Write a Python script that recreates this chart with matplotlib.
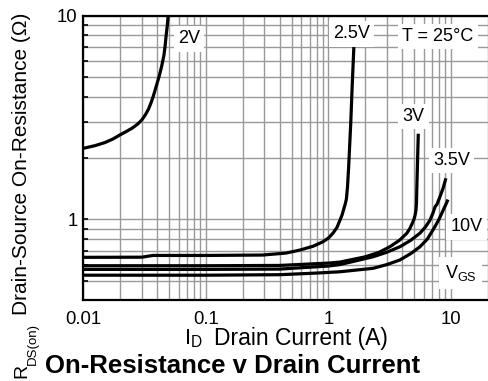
import matplotlib
matplotlib.use("Agg")
import matplotlib.pyplot as plt
from matplotlib.ticker import LogLocator, NullFormatter, FixedLocator, FixedFormatter

plt.rcParams['font.family'] = ['Liberation Sans', 'DejaVu Sans']
plt.rcParams['mathtext.fontset'] = 'custom'
plt.rcParams['mathtext.rm'] = 'Liberation Sans'

# ---- data ----
x_2v = [0.01, 0.0125, 0.015, 0.0175, 0.02, 0.0225, 0.025, 0.0275, 0.030, 0.032, 0.034,
        0.0355, 0.037, 0.0385, 0.040, 0.0418, 0.0436, 0.0455, 0.0465, 0.0473, 0.0485, 0.0494]
y_2v = [2.23, 2.30, 2.38, 2.48, 2.60, 2.70, 2.80, 2.92, 3.07, 3.25, 3.47,
        3.70, 3.97, 4.30, 4.65, 5.10, 5.65, 6.4, 7.1, 7.9, 9.0, 10.2]

x_25v = [0.01, 0.03, 0.037, 0.1, 0.29, 0.45, 0.586, 0.75, 0.90, 1.0, 1.09, 1.17, 1.24,
         1.29, 1.33, 1.37, 1.40, 1.43, 1.46, 1.52, 1.56, 1.61]
y_25v = [0.651, 0.652, 0.665, 0.665, 0.668, 0.683, 0.707, 0.738, 0.776, 0.81, 0.857, 0.91, 0.99,
         1.05, 1.12, 1.19, 1.26, 1.45, 1.8, 3.0, 4.5, 7.0]

x_3v = [0.01, 0.1, 0.4, 1.0, 1.24, 2.0, 2.6, 3.17, 3.8, 4.35, 4.6, 4.8, 4.95, 5.05, 5.12,
        5.17, 5.22, 5.25, 5.32, 5.40]
y_3v = [0.592, 0.592, 0.594, 0.610, 0.617, 0.655, 0.69, 0.734, 0.79, 0.854, 0.9, 0.95, 0.99,
        1.03, 1.07, 1.11, 1.2, 1.4, 1.9, 2.63]

x_35v = [0.01, 0.1, 0.4, 1.0, 1.24, 2.31, 3.0, 3.83, 4.7, 5.58, 6.2, 6.73, 7.1, 7.39, 7.7,
         8.11, 8.6, 9.07]
y_35v = [0.568, 0.568, 0.570, 0.59, 0.60, 0.655, 0.69, 0.734, 0.79, 0.856, 0.92, 0.992, 1.07,
         1.15, 1.19, 1.29, 1.42, 1.59]

x_10v = [0.01, 0.1, 0.4, 0.8, 1.24, 2.31, 3.0, 3.83, 4.7, 5.58, 6.4, 7.11, 7.9, 8.63, 9.44]
y_10v = [0.532, 0.532, 0.535, 0.545, 0.553, 0.575, 0.60, 0.632, 0.68, 0.734, 0.80, 0.886,
         0.99, 1.11, 1.25]

x_ticks = [0.01, 0.1, 1, 10]
x_ticklabels = ["0.01", "0.1", "1", "10"]
y_ticks = [1, 10]
y_ticklabels = ["1", "10"]

fig = plt.figure(figsize=(4.88, 3.81), dpi=100)
ax = fig.add_axes([83.3 / 488, 81 / 381, (488 - 83.3) / 488, (300 - 15.5) / 381])
ax.set_xscale('log')
ax.set_yscale('log')
ax.set_xlim(0.01, 20)
ax.set_ylim(0.402, 10)

grid_c = '#999999'
ax.xaxis.set_major_locator(FixedLocator(x_ticks))
ax.xaxis.set_major_formatter(FixedFormatter(x_ticklabels))
ax.xaxis.set_minor_locator(LogLocator(base=10, subs=range(2, 10), numticks=20))
ax.xaxis.set_minor_formatter(NullFormatter())
ax.yaxis.set_major_locator(FixedLocator(y_ticks))
ax.yaxis.set_major_formatter(FixedFormatter(y_ticklabels))
ax.yaxis.set_minor_locator(LogLocator(base=10, subs=range(2, 10), numticks=20))
ax.yaxis.set_minor_formatter(NullFormatter())

ax.grid(True, which='both', color=grid_c, linewidth=1.0)
ax.set_axisbelow(True)

ax.tick_params(axis='x', which='both', length=0, labelsize=13.3, pad=8)
ax.tick_params(axis='y', which='both', direction='in', length=3.5, width=1.2,
               labelsize=13.3, pad=4)

for s in ['left', 'top', 'bottom']:
    ax.spines[s].set_linewidth(1.6)
ax.spines['right'].set_visible(False)

lw = 2.3
for xs, ys in [(x_2v, y_2v), (x_25v, y_25v), (x_3v, y_3v), (x_35v, y_35v), (x_10v, y_10v)]:
    ax.plot(xs, ys, color='black', linewidth=lw, solid_capstyle='butt',
            solid_joinstyle='round', clip_on=True)

box = dict(facecolor='white', edgecolor='none', pad=3)
fs = 13
ax.text(0.0728, 7.67, "2V", fontsize=fs, ha='center', va='center', bbox=box)
ax.text(1.54, 8.12, "2.5V", fontsize=fs, ha='center', va='center', bbox=box)
ax.text(7.82, 7.89, "T = 25°C", fontsize=fs, ha='center', va='center', bbox=box)
ax.text(4.93, 3.19, "3V", fontsize=fs, ha='center', va='center', bbox=box)
ax.text(10.07, 1.95, "3.5V", fontsize=fs, ha='center', va='center', bbox=box)
ax.text(13.4, 0.917, "10V", fontsize=fs, ha='center', va='center', bbox=box)
ax.text(12.0, 0.545, r"V$_{\mathregular{GS}}$", fontsize=fs, ha='center', va='center',
        bbox=dict(facecolor='white', edgecolor='none', pad=4))

# x label
fig.text(184 / 488, 1 - 344 / 381, r"I$_{\mathregular{D}}$", fontsize=16, ha='left', va='baseline')
fig.text(300.5 / 488, 1 - 338 / 381, "Drain Current (A)", fontsize=16.5, ha='center', va='center')

# y label (rotated)
fig.text(22 / 488, 1 - 371 / 381, "R", fontsize=14, rotation=90, ha='center', va='center')
fig.text(33 / 488, 1 - 344 / 381, "DS(on)", fontsize=9.5, rotation=90, ha='center', va='center')
fig.text(22 / 488, 1 - 164 / 381, "Drain-Source On-Resistance (Ω)", fontsize=15,
         rotation=90, ha='center', va='center')

# title
fig.text(232.5 / 488, 1 - 366 / 381, "On-Resistance v Drain Current", fontsize=18.5,
         fontweight='bold', ha='center', va='center')

fig.savefig("out.png", dpi=100)
